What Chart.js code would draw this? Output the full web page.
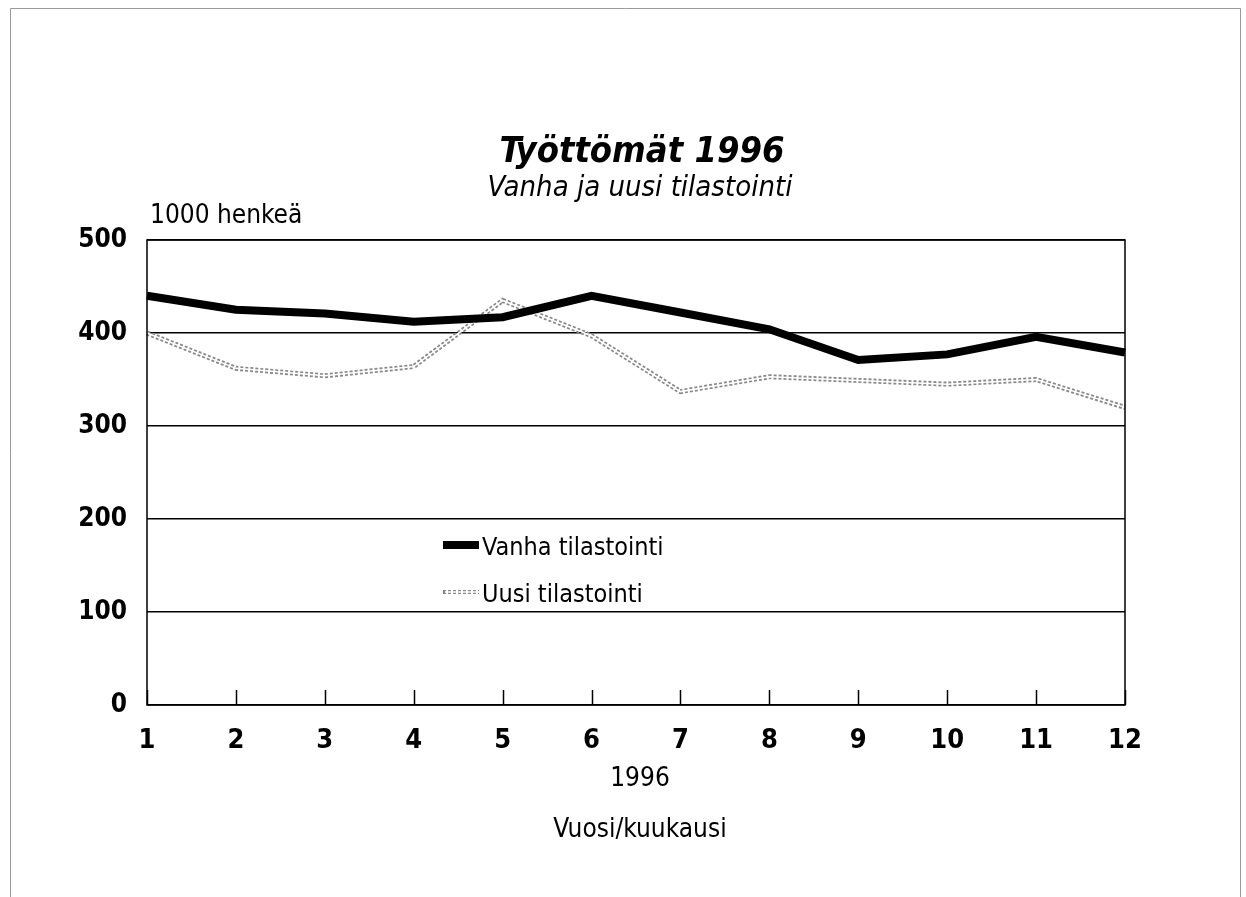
<!DOCTYPE html>
<html>
<head>
<meta charset="utf-8">
<script src="https://cdn.jsdelivr.net/npm/chart.js@4.4.1/dist/chart.umd.min.js"></script>
<style>
  html, body { margin: 0; padding: 0; background: #fff; }
  #wrap { width: 1246px; height: 897px; }
</style>
</head>
<body>
<div id="wrap"><canvas id="graph" width="1246" height="897"></canvas></div>
<script>
// kuukaudet ja sarjat (1000 henkeä)
var months = ["1", "2", "3", "4", "5", "6", "7", "8", "9", "10", "11", "12"];
var vanha = [440, 425, 421, 412, 417, 440, 422, 404, 371, 377, 396, 379];
var uusi = [400, 362, 354, 364, 435, 397, 337, 353, 349, 345, 350, 320];
var yTicks = [0, 100, 200, 300, 400, 500];

var FONT = "'Liberation Sans Narrow', 'DejaVu Sans Condensed', 'Arial Narrow', sans-serif";

// kehys, otsikot, legenda ja x-akselin pikkuviivat
var decorations = {
    id: "decorations",
    beforeDraw: function (chart) {
        var c = chart.ctx;
        c.save();
        c.fillStyle = "#fff";
        c.fillRect(0, 0, chart.width, chart.height);
        c.strokeStyle = "#999";
        c.lineWidth = 1;
        c.beginPath();
        c.moveTo(10.5, 900);
        c.lineTo(10.5, 8.5);
        c.lineTo(1240.5, 8.5);
        c.lineTo(1240.5, 900);
        c.stroke();
        c.restore();
    },
    afterDraw: function (chart) {
        var c = chart.ctx;
        var a = chart.chartArea;
        var x = chart.scales.x;
        var cx = (a.left + a.right) / 2 + 4;
        c.save();
        // plot box
        c.strokeStyle = "#000";
        c.lineWidth = 1.5;
        c.strokeRect(a.left, a.top, a.right - a.left, a.bottom - a.top);
        // tick marks pointing up from the bottom
        for (var i = 0; i < months.length; i++) {
            var px = Math.round(x.getPixelForValue(i)) + 0.5;
            c.beginPath();
            c.moveTo(px, a.bottom);
            c.lineTo(px, a.bottom - 15);
            c.stroke();
        }
        c.fillStyle = "#000";
        c.textAlign = "center";
        c.textBaseline = "alphabetic";
        c.font = "italic bold 36px " + FONT;
        c.fillText("Työttömät 1996", cx + 2, 162);
        c.font = "italic 29px " + FONT;
        c.fillText("Vanha ja uusi tilastointi", cx, 196);
        c.textAlign = "left";
        c.font = "26px " + FONT;
        c.fillText("1000 henkeä", a.left + 3, 223);
        c.textAlign = "center";
        c.fillText("1996", cx, 786);
        c.fillText("Vuosi/kuukausi", cx, 837);
        // legenda
        c.textAlign = "left";
        c.font = "25px " + FONT;
        c.strokeStyle = "#000";
        c.lineWidth = 8;
        c.beginPath();
        c.moveTo(443, 545);
        c.lineTo(479, 545);
        c.stroke();
        c.fillText("Vanha tilastointi", 482, 555);
        c.strokeStyle = "#888";
        c.lineWidth = 4;
        c.setLineDash([3, 2]);
        c.beginPath();
        c.moveTo(443, 592);
        c.lineTo(479, 592);
        c.stroke();
        c.setLineDash([]);
        c.strokeStyle = "#fff";
        c.lineWidth = 1.5;
        c.beginPath();
        c.moveTo(445, 592);
        c.lineTo(479, 592);
        c.stroke();
        c.fillText("Uusi tilastointi", 482, 602);
        c.restore();
    }
};

var ctx = document.getElementById("graph").getContext("2d");
var lineChart = new Chart(ctx, {
    type: "line",
    data: {
        labels: months,
        datasets: [
            {
                label: "Vanha tilastointi",
                data: vanha,
                borderColor: "#000",
                borderWidth: 8,
                pointRadius: 0,
                tension: 0,
                order: 0
            },
            {
                label: "Uusi tilastointi",
                data: uusi,
                borderColor: "#fff",
                borderWidth: 1.5,
                pointRadius: 0,
                tension: 0,
                order: 1
            },
            {
                label: "Uusi (reuna)",
                data: uusi,
                borderColor: "#888",
                borderWidth: 5,
                borderDash: [3, 2],
                pointRadius: 0,
                tension: 0,
                order: 2
            }
        ]
    },
    options: {
        responsive: false,
        animation: false,
        layout: { padding: { left: 0, right: 121, top: 240, bottom: 0 } },
        plugins: {
            legend: { display: false },
            title: { display: false },
            tooltip: { enabled: false }
        },
        scales: {
            x: {
                type: "category",
                offset: false,
                grid: { display: false, drawTicks: false },
                border: { display: false },
                ticks: {
                    color: "#000",
                    padding: 20,
                    maxRotation: 0,
                    autoSkip: false,
                    font: { family: FONT, size: 27, weight: "bold" }
                },
                afterFit: function (s) { s.height = 192; }
            },
            y: {
                min: 0,
                max: 500,
                afterBuildTicks: function (s) {
                    s.ticks = yTicks.map(function (v) { return { value: v }; });
                },
                grid: { color: "#000", lineWidth: 1.5, drawTicks: false },
                border: { display: false },
                ticks: {
                    color: "#000",
                    padding: 20,
                    font: { family: FONT, size: 26, weight: "bold" }
                },
                afterFit: function (s) { s.width = 147; }
            }
        }
    },
    plugins: [decorations]
});
</script>
</body>
</html>
